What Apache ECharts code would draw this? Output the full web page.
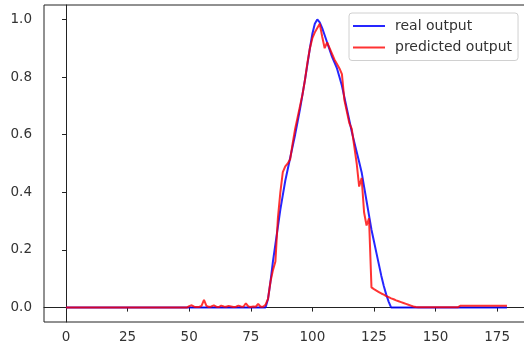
<!DOCTYPE html>
<html>
<head>
<meta charset="utf-8">
<script src="https://cdn.jsdelivr.net/npm/echarts@6/dist/echarts.min.js"></script>
<style>
  html, body { margin: 0; padding: 0; background: #fff; overflow: hidden; }
  #chart { width: 524px; height: 347px; }
</style>
</head>
<body>
<div id="chart"></div>
<script>
// real output, one value per step 0..179
var realOutput = [
  0, 0, 0, 0, 0, 0, 0, 0, 0, 0,
  0, 0, 0, 0, 0, 0, 0, 0, 0, 0,
  0, 0, 0, 0, 0, 0, 0, 0, 0, 0,
  0, 0, 0, 0, 0, 0, 0, 0, 0, 0,
  0, 0, 0, 0, 0, 0, 0, 0, 0, 0,
  0, 0, 0, 0, 0, 0, 0, 0, 0, 0,
  0, 0, 0, 0, 0, 0, 0, 0, 0, 0,
  0, 0, 0, 0, 0, 0, 0, 0, 0, 0,
  0, 0, 0.03, 0.09, 0.16, 0.22, 0.28, 0.34, 0.39, 0.44,
  0.48, 0.52, 0.56, 0.60, 0.645, 0.69, 0.74, 0.79, 0.845, 0.90,
  0.95, 0.985, 1.00, 0.99, 0.97, 0.945, 0.92, 0.895, 0.87, 0.85,
  0.83, 0.80, 0.77, 0.73, 0.69, 0.65, 0.61, 0.575, 0.54, 0.505,
  0.47, 0.42, 0.37, 0.32, 0.27, 0.23, 0.19, 0.15, 0.11, 0.075,
  0.045, 0.02, 0, 0, 0, 0, 0, 0, 0, 0,
  0, 0, 0, 0, 0, 0, 0, 0, 0, 0,
  0, 0, 0, 0, 0, 0, 0, 0, 0, 0,
  0, 0, 0, 0, 0, 0, 0, 0, 0, 0,
  0, 0, 0, 0, 0, 0, 0, 0, 0, 0
]

// predicted output, same steps
var predictedOutput = [
  0, 0, 0, 0, 0, 0, 0, 0, 0, 0,
  0, 0, 0, 0, 0, 0, 0, 0, 0, 0,
  0, 0, 0, 0, 0, 0, 0, 0, 0, 0,
  0, 0, 0, 0, 0, 0, 0, 0, 0, 0,
  0, 0, 0, 0, 0, 0, 0, 0, 0, 0,
  0.005, 0.008, 0.003, 0.002, 0.002, 0.006, 0.027, 0.006, 0.002, 0.004,
  0.008, 0.003, 0.002, 0.007, 0.004, 0.003, 0.006, 0.004, 0.002, 0.003,
  0.007, 0.004, 0.003, 0.015, 0.004, 0.002, 0.004, 0.003, 0.013, 0.003,
  0.003, 0.01, 0.03, 0.09, 0.13, 0.16, 0.31, 0.40, 0.47, 0.49,
  0.50, 0.515, 0.57, 0.62, 0.66, 0.70, 0.74, 0.79, 0.85, 0.90,
  0.935, 0.955, 0.97, 0.985, 0.94, 0.90, 0.92, 0.90, 0.88, 0.86,
  0.845, 0.83, 0.81, 0.72, 0.68, 0.64, 0.62, 0.56, 0.50, 0.42,
  0.45, 0.33, 0.285, 0.31, 0.07, 0.064, 0.059, 0.054, 0.049, 0.045,
  0.040, 0.036, 0.032, 0.029, 0.025, 0.022, 0.019, 0.016, 0.013, 0.010,
  0.007, 0.004, 0.002, 0.001, 0.001, 0.001, 0.001, 0.001, 0.001, 0.001,
  0.001, 0.001, 0.001, 0.001, 0.001, 0.001, 0.001, 0.001, 0.001, 0.001,
  0.006, 0.006, 0.006, 0.006, 0.006, 0.006, 0.006, 0.006, 0.006, 0.006,
  0.006, 0.006, 0.006, 0.006, 0.006, 0.006, 0.006, 0.006, 0.006, 0.006
]

var xTicks = [0, 25, 50, 75, 100, 125, 150, 175]
var yTicks = [0, 0.2, 0.4, 0.6, 0.8, 1.0]

function toPairs (values) {
  var out = []
  for (var i = 0; i < values.length; i++) {
    out.push([i, values[i]])
  }
  return out
}

var labelFont = { color: '#333', fontFamily: 'DejaVu Sans', fontSize: 13.5 }

var myChart = echarts.init(document.getElementById('chart'))
var option = {
  animation: false,
  backgroundColor: '#fff',
  // right spine sits just past the picture edge
  grid: {
    left: 44,
    top: 5,
    right: -5,
    bottom: 25,
    outerBoundsMode: 'none',
    show: true,
    borderColor: '#222',
    borderWidth: 1
  },
  legend: {
    orient: 'vertical',
    left: 349,
    top: 13,
    padding: [5, 6, 5, 4],
    itemGap: 5.5,
    itemWidth: 32,
    itemHeight: 2,
    icon: 'rect',
    backgroundColor: 'rgba(255,255,255,0.8)',
    borderColor: '#d0d0d0',
    borderWidth: 1,
    borderRadius: 3,
    textStyle: {
      color: '#333',
      fontFamily: 'DejaVu Sans',
      fontSize: 14,
      lineHeight: 16,
      padding: [0, 0, 0, 5]
    },
    data: ['real output', 'predicted output']
  },
  xAxis: {
    type: 'value',
    min: -8.95,
    max: 187.95,
    splitLine: { show: false },
    axisLine: { show: true, lineStyle: { color: '#222' } },
    axisTick: {
      show: true,
      length: 4,
      customValues: xTicks,
      lineStyle: { color: '#222' }
    },
    axisLabel: Object.assign({ margin: 8, customValues: xTicks }, labelFont)
  },
  yAxis: {
    type: 'value',
    min: -0.05,
    max: 1.05,
    splitLine: { show: false },
    axisLine: { show: true, lineStyle: { color: '#222' } },
    axisTick: {
      show: true,
      length: 4,
      customValues: yTicks,
      lineStyle: { color: '#222' }
    },
    axisLabel: Object.assign({
      margin: 12,
      customValues: yTicks,
      formatter: function (v) { return v.toFixed(1) }
    }, labelFont)
  },
  series: [
    {
      name: 'real output',
      type: 'line',
      data: toPairs(realOutput),
      symbol: 'none',
      color: 'rgba(0,0,255,0.85)',
      lineStyle: { width: 2, color: 'rgba(0,0,255,0.85)' }
    },
    {
      name: 'predicted output',
      type: 'line',
      data: toPairs(predictedOutput),
      symbol: 'none',
      color: 'rgba(255,0,0,0.8)',
      lineStyle: { width: 2, color: 'rgba(255,0,0,0.8)' }
    }
  ]
}
myChart.setOption(option)
</script>
</body>
</html>
